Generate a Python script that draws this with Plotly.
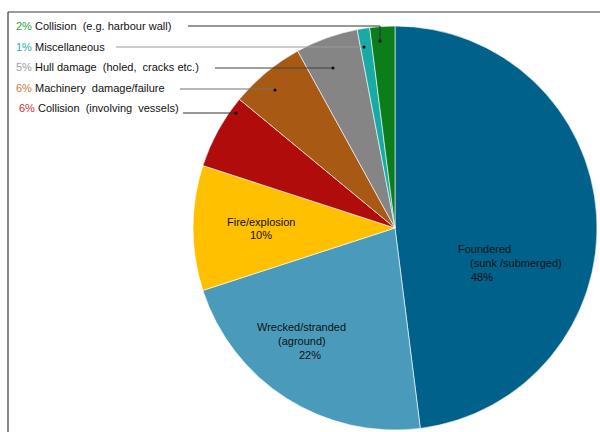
import plotly.graph_objects as go

# ---- data ----
categories = ["Foundered (sunk /submerged)", "Wrecked/stranded (aground)", "Fire/explosion",
              "Collision (involving vessels)", "Machinery damage/failure",
              "Hull damage (holed, cracks etc.)", "Miscellaneous", "Collision (e.g. harbour wall)"]
values = [48, 22, 10, 6, 6, 5, 1, 2]
colors = ["#00618A", "#4A9BBB", "#FFC000", "#B00C0C", "#A85A15", "#858585", "#1AAAA5", "#0B7D1B"]

# callout labels (small slices): percent text, label, percent colour
callout_pct = ["2%", "1%", "5%", "6%", "6%"]
callout_text = ["Collision  (e.g. harbour wall)", "Miscellaneous", "Hull damage  (holed,  cracks etc.)",
                "Machinery  damage/failure", "Collision  (involving  vessels)"]
callout_pct_colors = ["#2E9E3E", "#1AB0A8", "#A0A0A0", "#C87A3A", "#D03030"]

W, H = 600, 432

def px(x):
    return x / W

def py(y):
    return 1 - y / H

fig = go.Figure()
fig.add_trace(go.Pie(
    labels=categories, values=values, sort=False, direction="clockwise", rotation=0,
    marker=dict(colors=colors, line=dict(color="white", width=0.6)),
    textinfo="none", hoverinfo="label+percent", showlegend=False,
    domain=dict(x=[px(191), px(599)], y=[py(430), py(26)]),
))

shapes = []
annotations = []

# frame (left and top borders)
shapes.append(dict(type="line", xref="paper", yref="paper", x0=px(8), x1=px(8), y0=py(12), y1=0,
                   line=dict(color="#3a3a3a", width=1.2)))
shapes.append(dict(type="line", xref="paper", yref="paper", x0=px(8), x1=1, y0=py(12), y1=py(12),
                   line=dict(color="#3a3a3a", width=1.2)))

# callout layout (pixel positions)
text_x = [14, 14, 14, 14, 17]
text_y = [26, 47, 67, 88, 108]
line_start = [188, 116, 215, 180, 183]
line_y = [26, 47, 68, 89, 113]
dots = [(380, 41), (364, 47), (333, 68), (275, 90), (236, 113)]
line_colors = ["#303030", "#9a9a9a", "#404040", "#707070", "#303030"]

for i in range(len(callout_pct)):
    annotations.append(dict(
        xref="paper", yref="paper", x=px(text_x[i]), y=py(text_y[i]), xanchor="left", yanchor="middle",
        showarrow=False,
        text=f"<span style='color:{callout_pct_colors[i]}'>{callout_pct[i]}</span> {callout_text[i]}",
        font=dict(family="Liberation Sans, Arial", size=11, color="#111111")))
    dx, dy = dots[i]
    if dy != line_y[i]:
        shapes.append(dict(type="path", xref="paper", yref="paper",
                           path=f"M {px(line_start[i])},{py(line_y[i])} L {px(dx)},{py(line_y[i])} L {px(dx)},{py(dy)}",
                           line=dict(color=line_colors[i], width=1)))
    else:
        shapes.append(dict(type="line", xref="paper", yref="paper",
                           x0=px(line_start[i]), x1=px(dx), y0=py(dy), y1=py(dy),
                           line=dict(color=line_colors[i], width=1)))
    r = 1.6
    shapes.append(dict(type="circle", xref="paper", yref="paper",
                       x0=px(dx - r), x1=px(dx + r), y0=py(dy + r), y1=py(dy - r),
                       fillcolor="#111", line=dict(color="#111", width=0)))

# inside labels
inside = [
    ("Foundered", 456, 249), ("(sunk /submerged)", 468, 263), ("48%", 469, 277),
    ("Fire/explosion", 225, 222), ("10%", 248, 235),
    ("Wrecked/stranded", 255, 327), ("(aground)", 276, 341), ("22%", 297, 355),
]
for t, x, y in inside:
    annotations.append(dict(xref="paper", yref="paper", x=px(x), y=py(y), xanchor="left", yanchor="middle",
                            showarrow=False, text=t,
                            font=dict(family="Liberation Sans, Arial", size=11, color="#111111")))

fig.update_layout(
    width=W, height=H, margin=dict(l=0, r=0, t=0, b=0),
    paper_bgcolor="white", plot_bgcolor="white",
    shapes=shapes, annotations=annotations,
)

fig.write_html("out.html")
